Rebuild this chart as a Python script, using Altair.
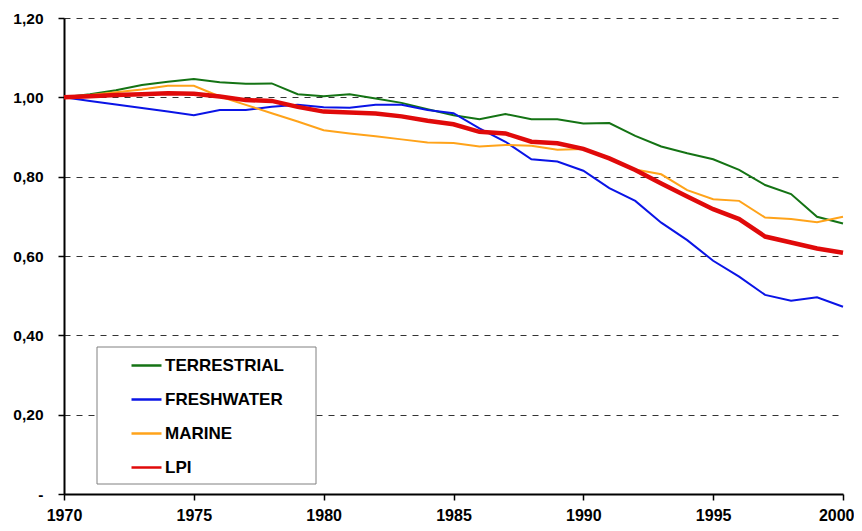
import altair as alt
import pandas as pd

years = list(range(1970, 2001))

terrestrial = [1.000, 1.008, 1.018, 1.031, 1.039, 1.046, 1.038, 1.034, 1.035, 1.008,
               1.003, 1.008, 0.997, 0.986, 0.970, 0.955, 0.945, 0.958, 0.945, 0.945,
               0.934, 0.935, 0.903, 0.876, 0.859, 0.844, 0.817, 0.779, 0.756, 0.699, 0.682]
freshwater = [1.000, 0.991, 0.982, 0.973, 0.964, 0.955, 0.968, 0.968, 0.976, 0.981,
              0.975, 0.974, 0.981, 0.981, 0.968, 0.960, 0.922, 0.888, 0.844, 0.838,
              0.815, 0.771, 0.739, 0.684, 0.640, 0.588, 0.548, 0.502, 0.487, 0.496, 0.472]
marine = [1.000, 1.006, 1.013, 1.020, 1.029, 1.029, 1.002, 0.981, 0.960, 0.939,
          0.917, 0.909, 0.902, 0.894, 0.886, 0.885, 0.876, 0.880, 0.878, 0.868,
          0.870, 0.846, 0.818, 0.806, 0.766, 0.743, 0.739, 0.697, 0.693, 0.685, 0.699]
lpi = [1.000, 1.003, 1.006, 1.008, 1.010, 1.009, 1.002, 0.993, 0.991, 0.976,
       0.964, 0.962, 0.959, 0.952, 0.941, 0.932, 0.913, 0.909, 0.888, 0.884,
       0.870, 0.846, 0.817, 0.783, 0.750, 0.718, 0.693, 0.649, 0.634, 0.619, 0.608]

series_names = ["TERRESTRIAL", "FRESHWATER", "MARINE", "LPI"]
series_colors = ["#147314", "#0a14e6", "#ffa31a", "#e00a0a"]
y_ticks = [0, 0.2, 0.4, 0.6, 0.8, 1.0, 1.2]
x_ticks = [1970, 1975, 1980, 1985, 1990, 1995, 2000]

rows = []
for name, vals in zip(series_names, [terrestrial, freshwater, marine, lpi]):
    for yr, v in zip(years, vals):
        rows.append({"year": yr, "value": v, "series": name})
df = pd.DataFrame(rows)

FONT = "Liberation Sans"

x_enc = alt.X("year:Q",
              scale=alt.Scale(domain=[1970, 2000], nice=False, zero=False),
              axis=alt.Axis(values=x_ticks, format="d", title=None, grid=False,
                            labelFont=FONT, labelFontSize=16, labelFontWeight="bold",
                            labelColor="black", labelPadding=7, tickSize=6,
                            tickColor="black", tickWidth=1.5, domainColor="black",
                            domainWidth=2, labelFlush=False,
                            labelAlign={"condition": {"test": "datum.value === 2000", "value": "right"},
                                        "value": "center"},
                            labelOffset={"condition": {"test": "datum.value === 2000", "value": 11},
                                         "value": 0}))
y_enc = alt.Y("value:Q",
              scale=alt.Scale(domain=[0, 1.2], nice=False, zero=True),
              axis=alt.Axis(values=y_ticks, title=None, grid=True,
                            gridColor="#333333", gridDash=[6, 6], gridWidth=1,
                            labelExpr="datum.value == 0 ? '-\u00a0\u00a0\u00a0\u00a0' : replace(format(datum.value, '.2f'), '.', ',')",
                            labelFont=FONT, labelFontSize=15.5, labelFontWeight="bold",
                            labelColor="black", labelPadding=15, tickSize=6,
                            tickColor="black", tickWidth=1.5, domainColor="black",
                            domainWidth=2))

color_enc = alt.Color("series:N",
                      scale=alt.Scale(domain=series_names, range=series_colors),
                      legend=alt.Legend(title=None, orient="none", legendX=66, legendY=331,
                                        symbolType="stroke", symbolSize=900,
                                        symbolStrokeWidth=2.5, labelFont=FONT,
                                        labelFontSize=17, labelFontWeight="bold",
                                        labelColor="black", labelOffset=2,
                                        rowPadding=9, padding=0, labelLimit=300))

frame = alt.Chart(alt.Data(values=[{}])).mark_rect(
    fill="white", stroke="#808080", strokeWidth=1
).encode(x=alt.value(33), x2=alt.value(252), y=alt.value(329), y2=alt.value(466))

others = alt.Chart(df).transform_filter(alt.datum.series != "LPI").mark_line(
    strokeWidth=2
).encode(x=x_enc, y=y_enc, color=color_enc, detail="series:N")

lpi_line = alt.Chart(df).transform_filter(alt.datum.series == "LPI").mark_line(
    strokeWidth=4.5
).encode(x=x_enc, y=y_enc, color=color_enc)

chart = alt.layer(frame, others, lpi_line).properties(
    width=779, height=476,
    autosize=alt.AutoSizeParams(type="none"),
    padding={"left": 56, "top": 10, "right": 11, "bottom": 30},
    background="white"
).configure_view(stroke=None)

chart.save("out.html", embed_options={"renderer": "svg", "actions": False})
